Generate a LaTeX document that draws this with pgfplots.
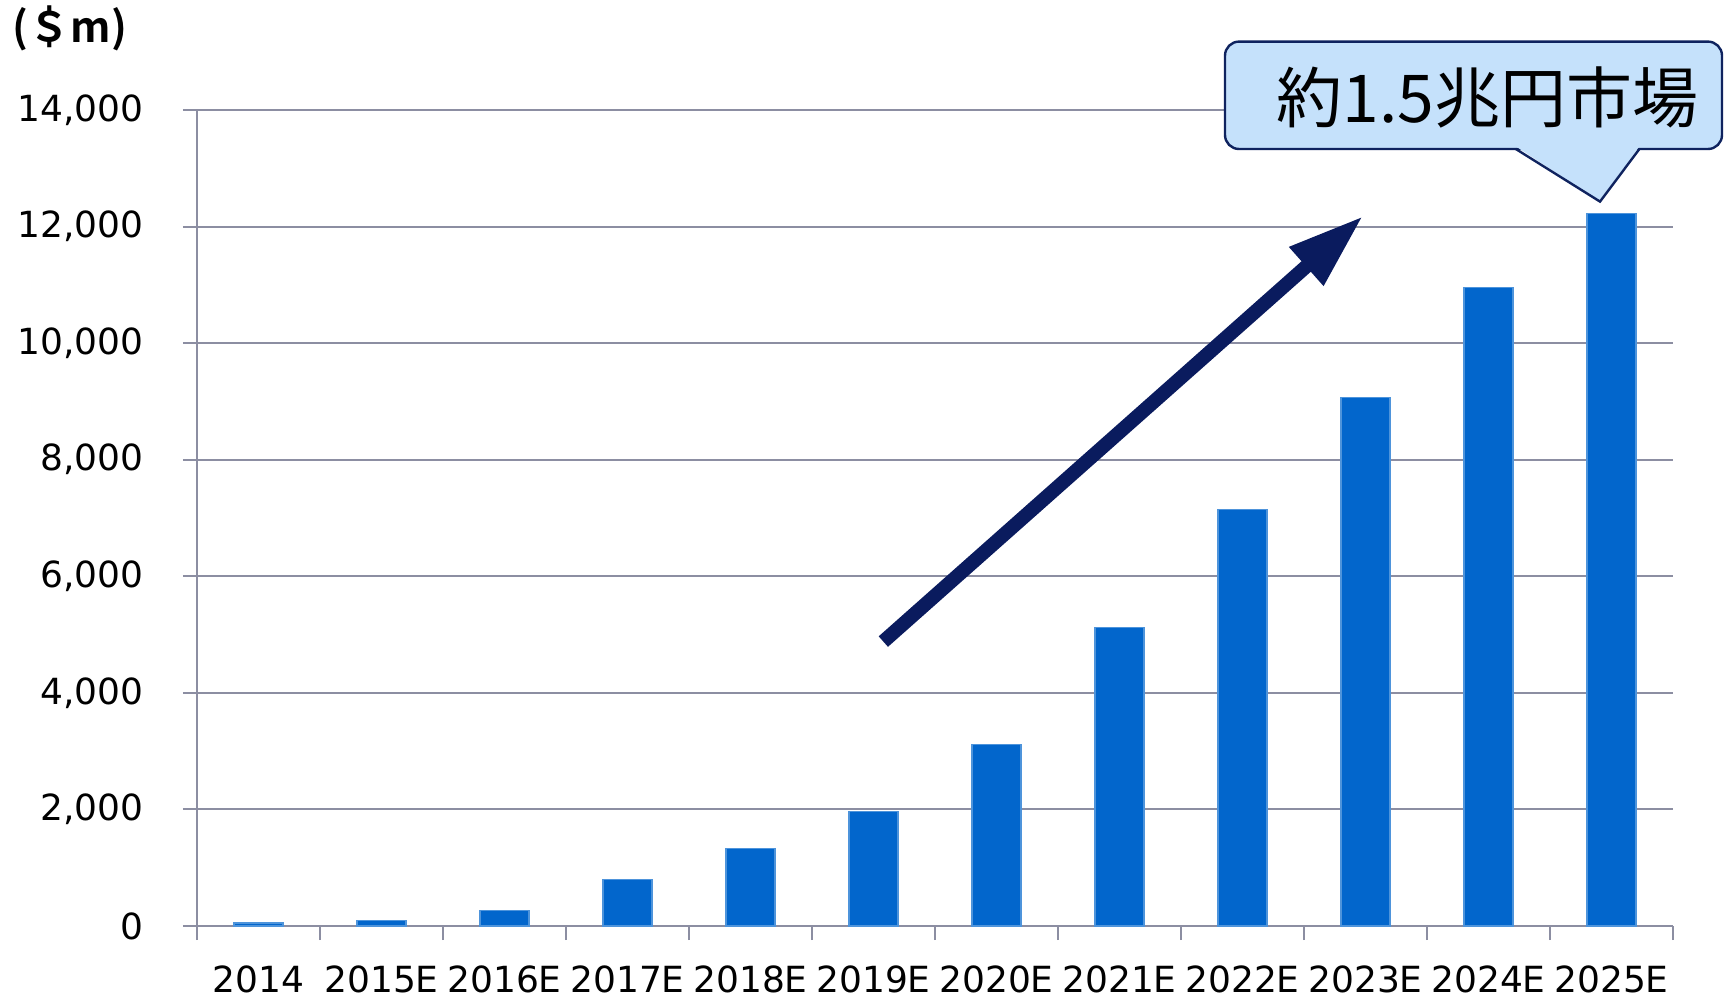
\documentclass[border=0pt]{standalone}
\usepackage{pgfplots}
\pgfplotsset{compat=1.18}
\usepackage{fontspec}
\setmainfont{DejaVu Sans}
\newfontfamily\cjk[BoldFont={Noto Sans CJK JP Bold}]{Noto Sans CJK JP}
\usetikzlibrary{arrows.meta}
\definecolor{barblue}{RGB}{2,102,204}
\definecolor{gridc}{RGB}{140,142,162}
\definecolor{navy}{RGB}{10,27,94}
\definecolor{callfill}{RGB}{197,225,251}
\definecolor{callline}{RGB}{15,35,95}
\begin{document}
\begin{tikzpicture}
\path[use as bounding box] (-49.25pt,-18.25pt) rectangle (381.75pt,231.5pt);
\begin{axis}[
  scale only axis, width=369pt, height=204pt,
  xmin=-0.5, xmax=11.5, ymin=0, ymax=14000,
  ytick={0,2000,...,14000},
  xtick={0,...,11},
  xticklabels={2014,2015E,2016E,2017E,2018E,2019E,2020E,2021E,2022E,2023E,2024E,2025E},
  minor xtick={-0.5,0.5,...,11.5},
  axis x line*=bottom, axis y line*=left,
  ymajorgrids, grid style={gridc, line width=0.5pt},
  axis line style={gridc, line width=0.5pt},
  major x tick style={draw=none},
  minor x tick style={gridc, line width=0.5pt},
  major y tick style={gridc, line width=0.5pt},
  tick align=outside, major tick length=3.5pt, minor tick length=3.5pt,
  ybar, bar width=12.25pt,
  scaled y ticks=false,
  /pgf/number format/1000 sep={,},
  /pgf/number format/assume math mode=true,
  ticklabel style={font=\fontsize{9}{11}\selectfont},
  yticklabel style={xshift=-6.3pt},
  xticklabel style={yshift=-3pt},
  clip=false,
]
\addplot[fill=barblue, draw=barblue!70!white, line width=0.3pt] coordinates {
  (0,50) (1,100) (2,270) (3,800) (4,1330) (5,1970) (6,3120)
  (7,5120) (8,7150) (9,9070) (10,10960) (11,12220)};
\draw[navy, line width=3.5pt, -{Triangle[length=19pt,width=12pt]}]
  (axis cs:5.08,4880) -- (axis cs:8.98,12180);
\end{axis}
% unit label
\node[anchor=center, inner sep=0pt] at (-31.8pt,224.3pt) {\cjk\fontsize{10.5}{12}\selectfont\bfseries (＄m)};
% callout
\filldraw[fill=callfill, draw=callline, line width=0.6pt, rounded corners=3.5pt]
  (257pt,194.25pt) rectangle (381.25pt,221.1pt);
\fill[callfill] (329.7pt,194.9pt) -- (350.75pt,181.1pt) -- (360.6pt,194.9pt) -- cycle;
\draw[callline, line width=0.6pt, line join=miter] (329.7pt,194.25pt) -- (350.75pt,181.1pt) -- (360.6pt,194.25pt);
\node[anchor=center, inner sep=0pt] at (322.6pt,207.25pt) {\cjk\fontsize{16.5}{18}\selectfont 約1.5兆円市場};
\end{tikzpicture}
\end{document}
